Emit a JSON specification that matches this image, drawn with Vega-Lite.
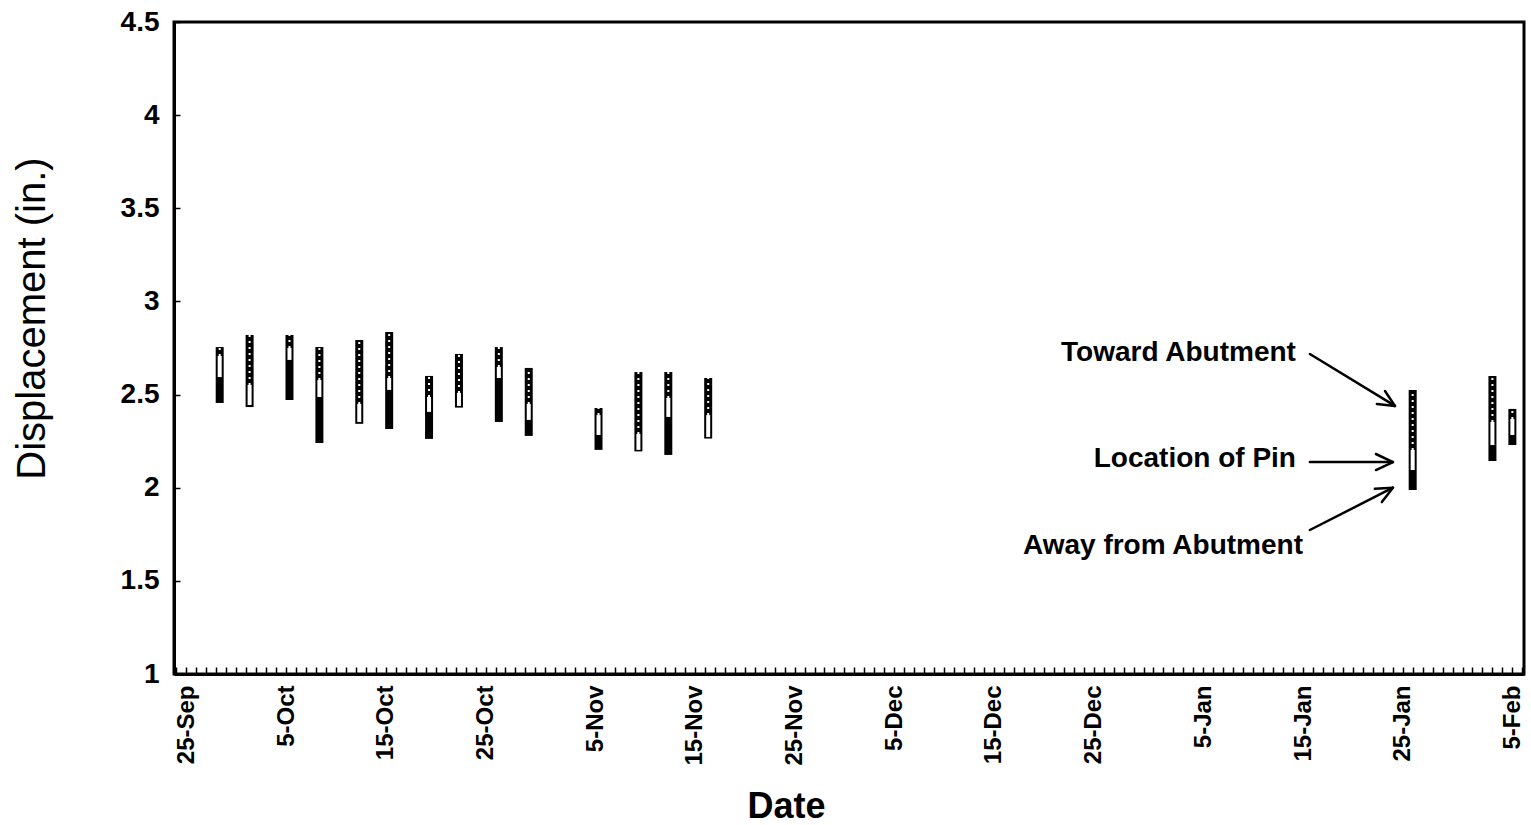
{
  "$schema": "https://vega.github.io/schema/vega-lite/v6.json",
  "width": 1350,
  "height": 652,
  "autosize": {"type": "none"},
  "padding": {"left": 174, "top": 22, "right": 7, "bottom": 151},
  "background": "white",
  "config": {
    "font": "Liberation Sans",
    "view": {"stroke": "black", "strokeWidth": 3},
    "axis": {"grid": false}
  },
  "datasets": {
    "bars": [
      {"date": "1997-09-28T08:00", "top": 2.755, "pin_hi": 2.707, "pin_lo": 2.594, "bottom": 2.455},
      {"date": "1997-10-01T08:00", "top": 2.820, "pin_hi": 2.552, "pin_lo": 2.444, "bottom": 2.433},
      {"date": "1997-10-05T08:00", "top": 2.820, "pin_hi": 2.750, "pin_lo": 2.686, "bottom": 2.471},
      {"date": "1997-10-08T08:00", "top": 2.755, "pin_hi": 2.578, "pin_lo": 2.487, "bottom": 2.240},
      {"date": "1997-10-12T08:00", "top": 2.793, "pin_hi": 2.450, "pin_lo": 2.353, "bottom": 2.343},
      {"date": "1997-10-15T08:00", "top": 2.836, "pin_hi": 2.589, "pin_lo": 2.525, "bottom": 2.315},
      {"date": "1997-10-19T08:00", "top": 2.600, "pin_hi": 2.487, "pin_lo": 2.407, "bottom": 2.262},
      {"date": "1997-10-22T08:00", "top": 2.718, "pin_hi": 2.509, "pin_lo": 2.439, "bottom": 2.430},
      {"date": "1997-10-26T08:00", "top": 2.755, "pin_hi": 2.648, "pin_lo": 2.589, "bottom": 2.353},
      {"date": "1997-10-29T08:00", "top": 2.643, "pin_hi": 2.450, "pin_lo": 2.364, "bottom": 2.278},
      {"date": "1997-11-05T08:00", "top": 2.428, "pin_hi": 2.390, "pin_lo": 2.283, "bottom": 2.203},
      {"date": "1997-11-09T08:00", "top": 2.621, "pin_hi": 2.289, "pin_lo": 2.203, "bottom": 2.195},
      {"date": "1997-11-12T08:00", "top": 2.621, "pin_hi": 2.482, "pin_lo": 2.380, "bottom": 2.176},
      {"date": "1997-11-16T08:00", "top": 2.589, "pin_hi": 2.390, "pin_lo": 2.272, "bottom": 2.264},
      {"date": "1998-01-26T00:00", "top": 2.525, "pin_hi": 2.203, "pin_lo": 2.095, "bottom": 1.988},
      {"date": "1998-02-03T00:00", "top": 2.600, "pin_hi": 2.353, "pin_lo": 2.229, "bottom": 2.144},
      {"date": "1998-02-05T00:00", "top": 2.423, "pin_hi": 2.369, "pin_lo": 2.283, "bottom": 2.229}
    ],
    "arrows": [
      {"t1": "1998-01-15T16:30", "v1": 2.718, "t2": "1998-01-24T05:20", "v2": 2.439},
      {"t1": "1998-01-24T05:20", "v1": 2.439, "t2": "1998-01-23T05:20", "v2": 2.519},
      {"t1": "1998-01-24T05:20", "v1": 2.439, "t2": "1998-01-22T09:50", "v2": 2.450},
      {"t1": "1998-01-15T16:30", "v1": 2.138, "t2": "1998-01-24T00:30", "v2": 2.138},
      {"t1": "1998-01-24T00:30", "v1": 2.138, "t2": "1998-01-22T07:30", "v2": 2.181},
      {"t1": "1998-01-24T00:30", "v1": 2.138, "t2": "1998-01-22T07:30", "v2": 2.095},
      {"t1": "1998-01-15T16:30", "v1": 1.773, "t2": "1998-01-24T00:30", "v2": 2.000},
      {"t1": "1998-01-24T00:30", "v1": 2.000, "t2": "1998-01-22T05:00", "v2": 1.994},
      {"t1": "1998-01-24T00:30", "v1": 2.000, "t2": "1998-01-22T21:50", "v2": 1.923}
    ],
    "notes": [
      {"t": "1998-01-14T07:00", "v": 2.723, "label": "Toward Abutment"},
      {"t": "1998-01-14T07:00", "v": 2.154, "label": "Location of Pin"},
      {"t": "1998-01-15T00:00", "v": 1.687, "label": "Away from Abutment"}
    ]
  },
  "resolve": {"axis": {"x": "independent"}},
  "layer": [
    {
      "data": {"name": "bars"},
      "mark": {"type": "rule", "color": "black", "strokeWidth": 8, "strokeCap": "butt"},
      "encoding": {
        "x": {
          "field": "date", "type": "temporal", "title": "Date",
          "scale": {"domain": [{"year": 1997, "month": 9, "date": 23, "hours": 18}, {"year": 1998, "month": 2, "date": 6, "hours": 4}]},
          "axis": {
            "values": [
              {"year": 1997, "month": 9, "date": 25}, {"year": 1997, "month": 10, "date": 5},
              {"year": 1997, "month": 10, "date": 15}, {"year": 1997, "month": 10, "date": 25},
              {"year": 1997, "month": 11, "date": 5}, {"year": 1997, "month": 11, "date": 15},
              {"year": 1997, "month": 11, "date": 25}, {"year": 1997, "month": 12, "date": 5},
              {"year": 1997, "month": 12, "date": 15}, {"year": 1997, "month": 12, "date": 25},
              {"year": 1998, "month": 1, "date": 5}, {"year": 1998, "month": 1, "date": 15},
              {"year": 1998, "month": 1, "date": 25}, {"year": 1998, "month": 2, "date": 5}
            ],
            "format": "%-d-%b",
            "labelAngle": -90,
            "labelAlign": "right",
            "labelBaseline": "middle",
            "labelPadding": 11,
            "labelFontSize": 24,
            "labelFontWeight": "bold",
            "labelColor": "black",
            "labelFlush": false,
            "labelOverlap": false,
            "ticks": false,
            "domainColor": "black",
            "domainWidth": 3,
            "titleFontSize": 36,
            "titleFontWeight": "bold",
            "titleColor": "black",
            "titleX": 612,
            "titleY": 132,
            "titleBaseline": "middle",
            "titleAlign": "center"
          }
        },
        "y": {
          "field": "bottom", "type": "quantitative", "title": "Displacement (in.)",
          "scale": {"domain": [1, 4.5], "nice": false, "zero": false},
          "axis": {
            "values": [1, 1.5, 2, 2.5, 3, 3.5, 4, 4.5],
            "format": "~g",
            "labelFontSize": 28,
            "labelFontWeight": "bold",
            "labelColor": "black",
            "labelPadding": 21,
            "labelFlush": false,
            "tickSize": -6,
            "tickColor": "black",
            "tickWidth": 1.5,
            "domainColor": "black",
            "domainWidth": 3,
            "titleFontSize": 40,
            "titleFontWeight": "normal",
            "titleColor": "black",
            "titleX": -142,
            "titleY": 296,
            "titleAngle": -90,
            "titleBaseline": "middle",
            "titleAlign": "center"
          }
        },
        "y2": {"field": "top"}
      }
    },
    {
      "data": {"name": "bars"},
      "mark": {"type": "rule", "color": "white", "strokeWidth": 2, "strokeDash": [2, 4], "strokeCap": "butt"},
      "encoding": {
        "x": {"field": "date", "type": "temporal", "axis": null},
        "y": {"field": "pin_hi", "type": "quantitative", "title": "Displacement (in.)"},
        "y2": {"field": "top"}
      }
    },
    {
      "data": {"name": "bars"},
      "mark": {"type": "rule", "color": "white", "strokeWidth": 4, "strokeCap": "butt"},
      "encoding": {
        "x": {"field": "date", "type": "temporal", "axis": null},
        "y": {"field": "pin_lo", "type": "quantitative", "title": "Displacement (in.)"},
        "y2": {"field": "pin_hi"}
      }
    },
    {
      "data": {"name": "arrows"},
      "mark": {"type": "rule", "color": "black", "strokeWidth": 2.5, "strokeCap": "round"},
      "encoding": {
        "x": {
          "field": "t1", "type": "temporal", "title": null,
          "axis": {
            "orient": "bottom",
            "labels": false,
            "domain": false,
            "grid": false,
            "tickCount": {"interval": "day", "step": 1},
            "tickSize": -7,
            "tickColor": "black",
            "tickWidth": 1.5,
            "title": null
          }
        },
        "y": {"field": "v1", "type": "quantitative", "title": "Displacement (in.)"},
        "x2": {"field": "t2"},
        "y2": {"field": "v2"}
      }
    },
    {
      "data": {"name": "notes"},
      "mark": {"type": "text", "align": "right", "baseline": "middle", "fontSize": 28, "fontWeight": "bold", "color": "black", "font": "Liberation Sans"},
      "encoding": {
        "x": {"field": "t", "type": "temporal", "axis": null},
        "y": {"field": "v", "type": "quantitative", "title": "Displacement (in.)"},
        "text": {"field": "label"}
      }
    }
  ]
}
